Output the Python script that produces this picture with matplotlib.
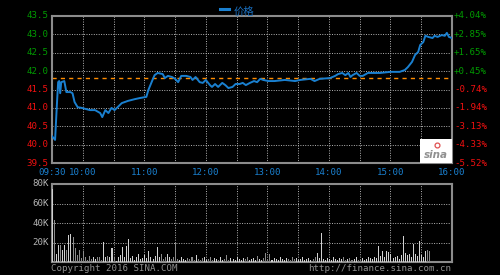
import numpy as np
import matplotlib
matplotlib.use('Agg')
import matplotlib.pyplot as plt
from matplotlib.patches import Rectangle

plt.rcParams['font.family'] = ['DejaVu Sans Mono', 'Noto Sans CJK SC']

# price: minutes after 09:30 and price
t_min = [0, 3, 5, 6, 7, 8, 9, 12, 14, 18, 20, 22, 25, 29, 33, 37, 42, 47, 49, 52,
         55, 58, 61, 64, 68, 74, 81, 86, 92, 94, 98, 100, 103, 108, 110, 113, 117,
         120, 123, 126, 131, 135, 137, 140, 144, 147, 150, 154, 156, 159, 162, 166,
         169, 172, 176, 179, 183, 186, 189, 193, 197, 200, 203, 206, 211, 217, 227,
         237, 242, 252, 256, 261, 271, 276, 279, 283, 286, 289, 291, 293, 297, 300,
         303, 308, 320, 330, 339, 344, 347, 351, 354, 357, 359, 362, 364, 367, 371,
         373, 376, 380, 383, 385, 387, 390]
price = [40.23, 40.13, 41.21, 41.70, 41.73, 41.40, 41.70, 41.73, 41.43, 41.43, 41.40,
         41.16, 41.02, 41.00, 40.97, 40.94, 40.94, 40.86, 40.75, 40.94, 40.86, 41.00,
         40.94, 41.02, 41.13, 41.19, 41.24, 41.27, 41.30, 41.49, 41.76, 41.89, 41.95,
         41.92, 41.81, 41.87, 41.84, 41.79, 41.70, 41.87, 41.87, 41.84, 41.76, 41.84,
         41.70, 41.68, 41.76, 41.62, 41.57, 41.65, 41.57, 41.68, 41.62, 41.54, 41.57,
         41.65, 41.65, 41.68, 41.62, 41.68, 41.73, 41.70, 41.79, 41.76, 41.73, 41.73,
         41.76, 41.73, 41.76, 41.79, 41.73, 41.79, 41.81, 41.87, 41.92, 41.95, 41.89,
         41.95, 41.84, 41.89, 41.95, 41.87, 41.87, 41.95, 41.95, 41.98, 41.98, 42.03,
         42.11, 42.25, 42.44, 42.52, 42.71, 42.79, 42.96, 42.93, 42.90, 42.96, 42.93,
         42.98, 42.96, 43.04, 42.93, 42.90]
prev_close = 41.81

# volume (thousands), one bar every 2 minutes
vol_k = [75, 43, 8, 18, 17, 12, 18, 12, 28, 29, 26, 14, 7, 12, 4, 11, 5, 2, 6, 3,
         5, 3, 5, 5, 2, 21, 5, 6, 5, 14, 5, 1, 5, 7, 15, 5, 16, 24, 4, 6,
         2, 5, 8, 3, 4, 7, 4, 11, 5, 3, 6, 15, 5, 8, 3, 5, 8, 5, 3, 5,
         21, 3, 2, 5, 3, 2, 4, 3, 5, 2, 7, 3, 2, 4, 5, 2, 3, 5, 2, 4,
         3, 2, 5, 2, 3, 7, 2, 4, 3, 2, 5, 3, 2, 4, 3, 5, 2, 3, 4, 2,
         6, 3, 2, 4, 9, 3, 8, 2, 4, 3, 2, 5, 3, 2, 4, 3, 2, 5, 3, 4,
         2, 3, 5, 2, 3, 4, 2, 3, 5, 9, 4, 30, 3, 2, 4, 3, 2, 5, 3, 2,
         4, 3, 5, 2, 3, 4, 2, 3, 5, 2, 3, 4, 2, 3, 5, 4, 3, 5, 4, 16,
         6, 11, 5, 11, 10, 8, 4, 5, 6, 3, 7, 27, 9, 7, 8, 5, 19, 8, 6, 22,
         7, 5, 11, 12, 11]

price_ticks = [39.5, 40.0, 40.5, 41.0, 41.5, 42.0, 42.5, 43.0, 43.5]
pct_labels = ['-5.52%', '-4.33%', '-3.13%', '-1.94%', '-0.74%',
              '+0.45%', '+1.65%', '+2.85%', '+4.04%']
time_labels = ['09:30', '10:00', '', '11:00', '', '12:00', '', '13:00', '',
               '14:00', '', '15:00', '', '16:00']
vol_ticks = [20, 40, 60, 80]

GREEN = '#009a00'
RED = '#f01010'
GRID = '#b4b4b4'
FRAME = '#8c8c8c'
BLUE = '#1a80d0'
fs = 6.6

fig = plt.figure(figsize=(5, 2.75), dpi=100, facecolor='black')
ax = fig.add_axes([0.104, 0.407, 0.8, 0.535], facecolor='black')
axv = fig.add_axes([0.104, 0.047, 0.8, 0.284], facecolor='black')

xt = np.arange(0, 391, 30)

# price panel
ax.plot(t_min, price, color=BLUE, lw=1.4, zorder=3)
ax.axhline(prev_close, color='#ff8c00', lw=1.0, ls=(0, (3, 3)), zorder=2)
ax.set_xlim(0, 390)
ax.set_ylim(39.5, 43.5)
ax.set_yticks(price_ticks)
ax.set_xticks(xt)
ax.grid(True, color=GRID, ls=(0, (1, 1.5)), lw=0.7)
ax.tick_params(length=0, labelleft=False, labelbottom=False)
for s in ax.spines.values():
    s.set_color(FRAME)
    s.set_linewidth(1.5)

for p, lab in zip(price_ticks, pct_labels):
    c = GREEN if p >= prev_close else RED
    ax.text(-0.008, p, '%.1f' % p, transform=ax.get_yaxis_transform(),
            ha='right', va='center', color=c, fontsize=fs)
    ax.text(1.005, p, lab, transform=ax.get_yaxis_transform(),
            ha='left', va='center', color=c, fontsize=fs)

for x, lab in zip(xt, time_labels):
    if lab:
        ax.text(x, -0.065, lab, transform=ax.get_xaxis_transform(),
                ha='center', va='center', color=BLUE, fontsize=fs)

# legend
fig.lines.append(plt.Line2D([0.44, 0.458], [0.968, 0.968], color=BLUE, lw=2.2,
                            transform=fig.transFigure))
fig.text(0.468, 0.958, '价格', color='#1a70c0', fontsize=7.5, va='center',
         family=['Noto Sans CJK SC'])

# sina logo box
ax.add_patch(Rectangle((0.92, 0.0), 0.08, 0.165, transform=ax.transAxes,
                       facecolor='white', edgecolor='none', zorder=4))
ax.text(0.96, 0.055, 'sina', transform=ax.transAxes, ha='center', va='center',
        color='#909090', fontsize=7.5, style='italic', weight='bold', zorder=5,
        family=['DejaVu Sans'])
ax.plot([0.962], [0.125], 'o', ms=3.5, mfc='none', mec='#e05050', mew=0.9,
        transform=ax.transAxes, zorder=5)

# volume panel
vt = np.arange(len(vol_k)) * 2
p_at = np.interp(vt, t_min, price)
up = np.r_[True, np.diff(p_at) >= 0]
colors = np.where(up, '#d0d0d0', '#8a8a8a')
axv.bar(vt, vol_k, width=1.0, color=colors, align='edge', zorder=3)
axv.set_xlim(0, 390)
axv.set_ylim(0, 80)
axv.set_yticks(vol_ticks)
axv.set_xticks(xt)
axv.grid(True, color=GRID, ls=(0, (1, 1.5)), lw=0.7)
axv.tick_params(length=0, labelleft=False, labelbottom=False)
for s in axv.spines.values():
    s.set_color(FRAME)
    s.set_linewidth(1.5)
for v in vol_ticks:
    axv.text(-0.008, v, '%dK' % v, transform=axv.get_yaxis_transform(),
             ha='right', va='center', color='#b4b4b4', fontsize=fs)

fig.text(0.102, 0.025, 'Copyright 2016 SINA.COM', color='#909090', fontsize=fs,
         va='center', ha='left')
fig.text(0.903, 0.025, 'http://finance.sina.com.cn', color='#909090', fontsize=fs,
         va='center', ha='right')

fig.savefig('out.png', dpi=100, facecolor='black')
